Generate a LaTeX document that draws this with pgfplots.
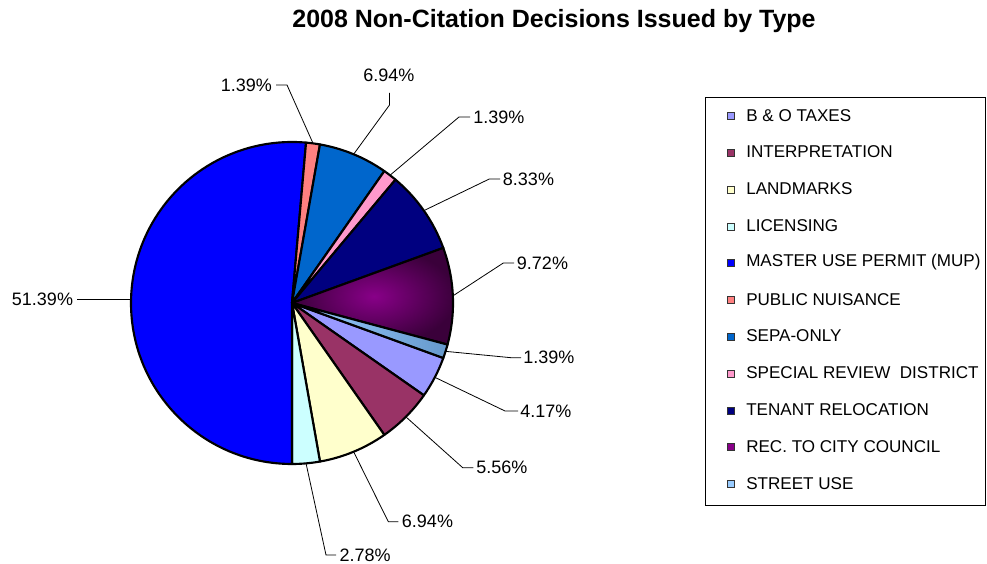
\documentclass[border=0pt]{standalone}
\usepackage{pgfplots}
\pgfplotsset{compat=1.18}
\usepackage{fontspec}
\setmainfont{Liberation Sans}
\definecolor{cBO}{HTML}{9999FF}
\definecolor{cInt}{HTML}{993366}
\definecolor{cLand}{HTML}{FFFFCC}
\definecolor{cLic}{HTML}{CCFFFF}
\definecolor{cMUP}{HTML}{0000FF}
\definecolor{cPN}{HTML}{FF8080}
\definecolor{cSEPA}{HTML}{0066CC}
\definecolor{cSRD}{HTML}{FF99CC}
\definecolor{cTen}{HTML}{000080}
\definecolor{cRec}{HTML}{880088}
\definecolor{cRecOut}{HTML}{3A003A}
\definecolor{cStr}{HTML}{99CCFF}
\definecolor{cStrR}{HTML}{6699CC}
\tikzset{
  sBO/.style={fill=cBO}, sInt/.style={fill=cInt}, sLand/.style={fill=cLand},
  sLic/.style={fill=cLic}, sMUP/.style={fill=cMUP}, sPN/.style={fill=cPN},
  sSEPA/.style={fill=cSEPA}, sSRD/.style={fill=cSRD}, sTen/.style={fill=cTen},
  sRec/.style={inner color=cRec, outer color=cRecOut},
  sStr/.style={left color=cStr, right color=cStrR},
  lab/.style={anchor=west, inner sep=0pt, font=\fontsize{13.5}{16}\selectfont},
  leg/.style={anchor=west, inner sep=0pt, font=\fontsize{12.8}{15}\selectfont},
  lead/.style={line width=0.6pt, black},
}
\begin{document}
\begin{tikzpicture}
\begin{axis}[
  width=740.25pt, height=422.25pt, scale only axis,
  xmin=0, xmax=987, ymin=0, ymax=563,
  hide axis, clip=false,
]
\path (axis cs:0,0) rectangle (axis cs:987,563);
% slices, clockwise, values in percent
\xdef\cum{109.98}
\foreach \key/\val in {BO/4.17, Int/5.56, Land/6.94, Lic/2.78, MUP/51.39, PN/1.39, SEPA/6.94, SRD/1.39, Ten/8.33, Rec/9.72, Str/1.39} {
  \pgfmathsetmacro\cend{\cum+3.6*\val}
  \pgfmathsetmacro\aS{90-\cum}
  \pgfmathsetmacro\aE{90-\cend}
  \pgfmathsetmacro\aM{90-(\cum+\cend)/2}
  \expandafter\xdef\csname mid\key\endcsname{\aM}
  \edef\temp{\noexpand\path[draw=black, line width=1.6pt, line join=round, s\key] (axis cs:292,260) -- ++(\aS:120.75pt) arc[start angle=\aS, end angle=\aE, radius=120.75pt] -- cycle;}
  \temp
  \xdef\cum{\cend}
}
% leader lines
\draw[lead] (axis cs:292,260) ++(\midPN:120.75pt) -- (axis cs:287,478) -- (axis cs:276,478);
\draw[lead] (axis cs:292,260) ++(\midSEPA:120.75pt) -- (axis cs:389.5,458) -- (axis cs:389.5,470);
\draw[lead] (axis cs:292,260) ++(\midSRD:120.75pt) -- (axis cs:459,446) -- (axis cs:470,446);
\draw[lead] (axis cs:292,260) ++(\midTen:120.75pt) -- (axis cs:489.3,384) -- (axis cs:500,384);
\draw[lead] (axis cs:292,260) ++(\midRec:120.75pt) -- (axis cs:503.3,300) -- (axis cs:514,300);
\draw[lead] (axis cs:292,260) ++(\midStr:120.75pt) -- (axis cs:511,205.3) -- (axis cs:521,205.3);
\draw[lead] (axis cs:292,260) ++(\midBO:120.75pt) -- (axis cs:505,152) -- (axis cs:518,152);
\draw[lead] (axis cs:292,260) ++(\midInt:120.75pt) -- (axis cs:462.7,95.3) -- (axis cs:473.3,95.3);
\draw[lead] (axis cs:292,260) ++(\midLand:120.75pt) -- (axis cs:388.3,41.3) -- (axis cs:398.3,41.3);
\draw[lead] (axis cs:292,260) ++(\midLic:120.75pt) -- (axis cs:326,8) -- (axis cs:336,8);
\draw[lead] (axis cs:131,263.7) -- (axis cs:76.7,263.7);
% labels
\node[lab] at (axis cs:220.7,478) {1.39\%};
\node[lab] at (axis cs:363,488) {6.94\%};
\node[lab] at (axis cs:473,446) {1.39\%};
\node[lab] at (axis cs:502.7,384) {8.33\%};
\node[lab] at (axis cs:516.7,300) {9.72\%};
\node[lab] at (axis cs:523,205.3) {1.39\%};
\node[lab] at (axis cs:520,152) {4.17\%};
\node[lab] at (axis cs:476,95.3) {5.56\%};
\node[lab] at (axis cs:401.7,41.3) {6.94\%};
\node[lab] at (axis cs:339.3,8) {2.78\%};
\node[lab] at (axis cs:11.7,263.7) {51.39\%};
% title
\node[font=\bfseries\fontsize{18.75}{22}\selectfont] at (axis cs:554,541.5) {2008 Non-Citation Decisions Issued by Type};
% legend
\draw[line width=0.6pt] (axis cs:705,466) rectangle (axis cs:985,58);
\foreach \c/\txt [count=\i from 0] in {cBO/B \& O TAXES, cInt/INTERPRETATION, cLand/LANDMARKS, cLic/LICENSING, cMUP/MASTER USE PERMIT (MUP), cPN/PUBLIC NUISANCE, cSEPA/SEPA-ONLY, cSRD/SPECIAL REVIEW~~DISTRICT, cTen/TENANT RELOCATION, cRec/REC. TO CITY COUNCIL, cStr/STREET USE} {
  \pgfmathsetmacro\yy{447.7-36.8*\i}
  \edef\temp{\noexpand\filldraw[fill=\c, draw=black!80, line width=0.6pt] (axis cs:727.5,\yy-4.3) rectangle (axis cs:734.5,\yy+2.7);
    \noexpand\node[leg] at (axis cs:746,\yy) {\unexpanded\expandafter{\txt}};}
  \temp
}
\end{axis}
\end{tikzpicture}
\end{document}
